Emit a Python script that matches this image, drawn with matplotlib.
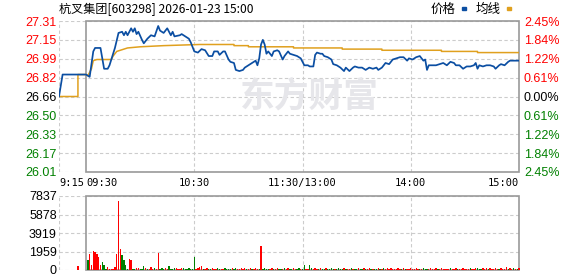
import numpy as np
import matplotlib.pyplot as plt
from matplotlib.patches import Rectangle

plt.rcParams['font.family'] = ['Liberation Sans', 'Noto Sans CJK SC', 'DejaVu Sans']

# 基本信息
title = '杭叉集团[603298] 2026-01-23 15:00'
pre_close = 26.66
pct_range = 2.45
price_labels = ['27.31', '27.15', '26.99', '26.82', '26.66', '26.50', '26.33', '26.17', '26.01']
pct_labels = ['2.45', '1.84', '1.22', '0.61', '0.00', '0.61', '1.22', '1.84', '2.45']
vol_max = 7837
vol_labels = ['7837', '5878', '3919', '1959', '0']
time_pos = [-15, 0, 60, 120, 180, 240]
time_labels = ['9:15', '09:30', '10:30', '11:30/13:00', '14:00', '15:00']

# 分时价格 (交易分钟, 价格)
price_t = [-15, -13, 0, 2, 4, 5, 8, 9, 10, 12, 13, 14, 16, 18, 20, 21, 22, 23, 25, 26,
           27, 28, 29, 31, 32, 34, 36, 38, 40, 41, 43, 45, 47, 48, 49, 52, 53, 55, 57, 58,
           60, 62, 64, 66, 68, 70, 71, 73, 74, 76, 77, 79, 80, 82, 83, 85, 87, 88, 90, 92,
           94, 95, 96, 97, 98, 99, 100, 101, 103, 104, 106, 107, 109, 110, 112, 113, 115, 117, 119, 121,
           123, 124, 126, 127, 128, 130, 131, 132, 134, 136, 137, 139, 141, 143, 144, 146, 148, 149, 151, 153,
           155, 157, 159, 161, 162, 164, 166, 168, 170, 172, 174, 176, 178, 179, 181, 183, 185, 187, 188, 189,
           190, 192, 194, 196, 198, 200, 202, 204, 205, 207, 209, 211, 213, 215, 216, 217, 218, 220, 222, 224,
           226, 227, 229, 230, 232, 234, 235, 237, 240]
price_v = [26.66, 26.85, 26.85, 26.83, 27.05, 27.08, 27.08, 26.99, 26.90, 26.90, 26.93, 26.98, 27.08, 27.21, 27.22, 27.19, 27.22, 27.19, 27.25, 27.22,
           27.25, 27.20, 27.22, 27.15, 27.12, 27.16, 27.19, 27.18, 27.27, 27.23, 27.21, 27.25, 27.19, 27.22, 27.18, 27.19, 27.20, 27.18, 27.16, 27.13,
           27.05, 27.04, 27.07, 27.06, 27.01, 27.01, 27.05, 27.05, 27.02, 27.05, 27.05, 26.98, 26.96, 26.95, 26.89, 26.88, 26.89, 26.91, 26.93, 26.95,
           26.97, 26.93, 26.99, 27.11, 27.15, 27.11, 27.03, 27.05, 27.01, 27.05, 27.06, 27.05, 26.98, 27.01, 27.05, 27.03, 27.02, 27.01, 26.99, 26.93,
           26.93, 26.92, 26.92, 27.02, 27.04, 27.03, 27.03, 27.01, 27.00, 26.98, 26.94, 26.93, 26.91, 26.88, 26.91, 26.88, 26.91, 26.92, 26.91, 26.91,
           26.89, 26.91, 26.90, 26.91, 26.89, 26.91, 26.95, 26.94, 26.98, 26.99, 27.00, 27.00, 26.97, 26.99, 26.98, 27.00, 27.01, 26.97, 26.98, 26.89,
           26.93, 26.93, 26.93, 26.94, 26.95, 26.93, 26.96, 26.95, 26.93, 26.93, 26.90, 26.92, 26.92, 26.93, 26.95, 26.90, 26.93, 26.92, 26.93, 26.93,
           26.92, 26.90, 26.93, 26.94, 26.93, 26.96, 26.97, 26.97, 26.97]

# 均价线
avg_t = [-15, -4.5, -4.5, 0, 1, 3, 4, 6, 14, 15, 17, 19, 23, 30, 43, 63, 82, 82, 90, 90,
         115, 115, 142, 142, 164, 164, 197, 197, 217, 217, 240]
avg_v = [26.66, 26.66, 26.85, 26.85, 26.84, 26.90, 26.97, 26.98, 26.98, 27.01, 27.05, 27.06, 27.08, 27.09, 27.10, 27.11, 27.11, 27.10, 27.10, 27.09,
         27.09, 27.08, 27.08, 27.07, 27.07, 27.06, 27.06, 27.05, 27.05, 27.04, 27.04]

# 成交量: 9:25 集合竞价 + 每分钟
auction_t = -4.5
auction_vol = 460
vol = [1100, 1740, 570, 2060, 1950, 1740, 1420, 500, 890, 570,
       140, 355, 140, 140, 140, 355, 1740, 7280, 2270, 1630,
       1100, 570, 140, 1200, 1100, 150, 130, 160, 210, 150,
       130, 460, 160, 150, 130, 355, 150, 160, 130, 1850,
       150, 160, 130, 210, 150, 400, 130, 150, 160, 180,
       150, 130, 160, 180, 150, 130, 160, 150, 130, 1350,
       150, 160, 280, 380, 130, 150, 160, 130, 150, 160,
       130, 150, 160, 130, 150, 130, 160, 150, 130, 150,
       160, 130, 240, 150, 130, 160, 150, 240, 130, 150,
       160, 130, 150, 160, 130, 150, 2550, 130, 160, 150,
       130, 150, 160, 130, 150, 160, 130, 150, 130, 160,
       150, 240, 130, 150, 160, 130, 150, 160, 130, 150,
       500, 130, 150, 500, 160, 130, 240, 150, 130, 160,
       150, 130, 160, 150, 130, 160, 150, 130, 150, 160,
       130, 150, 160, 130, 150, 130, 160, 150, 130, 150,
       160, 130, 150, 160, 130, 150, 160, 130, 150, 130,
       150, 160, 130, 150, 210, 130, 210, 150, 160, 130,
       150, 130, 160, 150, 130, 160, 150, 130, 150, 160,
       130, 150, 160, 130, 150, 130, 160, 150, 130, 150,
       160, 130, 150, 160, 130, 150, 160, 130, 150, 130,
       150, 160, 130, 150, 160, 130, 150, 130, 160, 150,
       130, 150, 160, 130, 150, 160, 210, 130, 150, 160,
       130, 180, 150, 160, 130, 150, 160, 130, 150, 160,
       150, 130, 280, 150, 210, 130, 160, 150, 130, 210]
vol_dir = ("grrrrrrrgg" "grrrrrrrrg" "gggrrggrrg" "ggrgrrrgrr" "gggrrggggr"
           "rrrggggggg" "rrrrgrrggr" "rrggrrgggg" "rggrrrrrgr" "rgrrrgrggg"
           "grrgrrggrg" "rrggrrggrg" "grrggrrrgr" "ggrggggrgg" "ggrgrrgrgg"
           "rggrgrrgrg" "grgrgrrrrr" "rrrrgrgrrr" "rrrrgrgggr" "rrrrgrrrrr"
           "rgrrrgrrrr" "rrgrrrgggr" "rrgrrrrrgr" "rrrgrrgrgr")

RED = '#ff0000'
GREEN = '#008000'
GRID = '#cccccc'
FRAME = '#999999'
BLUE = '#0b4ea2'
GOLD = '#e0a01e'

W, H = 578, 276
fig = plt.figure(figsize=(W / 100, H / 100), dpi=100)
ax = fig.add_axes([59 / W, 1 - 172 / H, 460 / W, 151 / H])
axv = fig.add_axes([59 / W, 1 - 270 / H, 460 / W, 74 / H])

lo = pre_close * (1 - pct_range / 100)
hi = pre_close * (1 + pct_range / 100)
p_ticks = np.linspace(lo, hi, len(price_labels))
v_ticks = np.linspace(0, vol_max, len(vol_labels))

dash = (0, (3, 2.2))
for a, ticks, top in [(ax, p_ticks, hi), (axv, v_ticks, vol_max)]:
    a.set_xlim(-15, 240)
    for s in a.spines.values():
        s.set_visible(False)
    for y in ticks:
        a.axhline(y, color=GRID, lw=0.8, ls=dash, zorder=0)
    for x in [-15, 60, 120, 180]:
        a.axvline(x, color=GRID, lw=0.8, ls=dash, zorder=0)
    a.add_patch(Rectangle((0, ticks[0]), 240, top - ticks[0], fill=False,
                          ec=FRAME, lw=1.2, clip_on=False, zorder=2))
    a.tick_params(length=0, labelsize=9)

# 价格区
ax.set_ylim(lo, hi)
ax.set_yticks(p_ticks)
ax.set_yticklabels(price_labels[::-1])
ax.tick_params(axis='y', pad=1.5)
mid = len(price_labels) // 2
for i, lab in enumerate(ax.get_yticklabels()):
    lab.set_color(GREEN if i < mid else ('black' if i == mid else RED))

ax.text(124, pre_close, '东方财富', fontsize=25, fontweight='bold', color='#e6e6ea',
        family=['Noto Sans CJK SC'], ha='center', va='center', zorder=0)

ax.plot(avg_t, avg_v, color=GOLD, lw=1.1, zorder=3)
ax.plot(price_t, price_v, color=BLUE, lw=1.25, zorder=4)

ax.set_xticks(time_pos)
ax.set_xticklabels(time_labels, family='DejaVu Sans Mono', fontsize=7.5)
ax.tick_params(axis='x', pad=4)
xl = ax.get_xticklabels()
xl[0].set_ha('left')
xl[1].set_ha('left')
xl[-1].set_ha('right')

ax2 = ax.twinx()
for s in ax2.spines.values():
    s.set_visible(False)
ax2.set_ylim(-pct_range, pct_range)
ax2.set_yticks(np.linspace(-pct_range, pct_range, len(pct_labels)))
ax2.set_yticklabels([t + '%' for t in pct_labels[::-1]])
ax2.tick_params(length=0, labelsize=9, pad=3.5)
for i, lab in enumerate(ax2.get_yticklabels()):
    lab.set_color(GREEN if i < mid else ('black' if i == mid else RED))

# 成交量区
axv.set_ylim(0, vol_max)
axv.set_yticks(v_ticks)
axv.set_yticklabels(vol_labels[::-1])
axv.tick_params(axis='y', pad=1.5)
axv.set_xticks([])
minutes = np.arange(1, len(vol) + 1)
bar_colors = [RED if c == 'r' else GREEN for c in vol_dir]
axv.bar(minutes, vol, width=0.75, color=bar_colors, lw=0, antialiased=False,
        zorder=6, clip_on=False)
axv.bar([auction_t], [auction_vol], width=0.75, color=RED, lw=0, antialiased=False,
        zorder=6, clip_on=False)

# 标题与图例
fig.text(59 / W, 1 - 9 / H, title, fontsize=8.7, family=['Noto Sans CJK SC'],
         ha='left', va='center')
fig.text(431 / W, 1 - 9 / H, '价格', fontsize=9, family=['Noto Sans CJK SC'],
         ha='left', va='center')
fig.text(476 / W, 1 - 9 / H, '均线', fontsize=9, family=['Noto Sans CJK SC'],
         ha='left', va='center')
fig.patches.append(Rectangle((462 / W, 1 - 10 / H), 4 / W, 3 / H, color=BLUE,
                             transform=fig.transFigure, figure=fig))
fig.patches.append(Rectangle((507 / W, 1 - 10 / H), 4 / W, 3 / H, color=GOLD,
                             transform=fig.transFigure, figure=fig))

fig.savefig('out.png', dpi=100)
